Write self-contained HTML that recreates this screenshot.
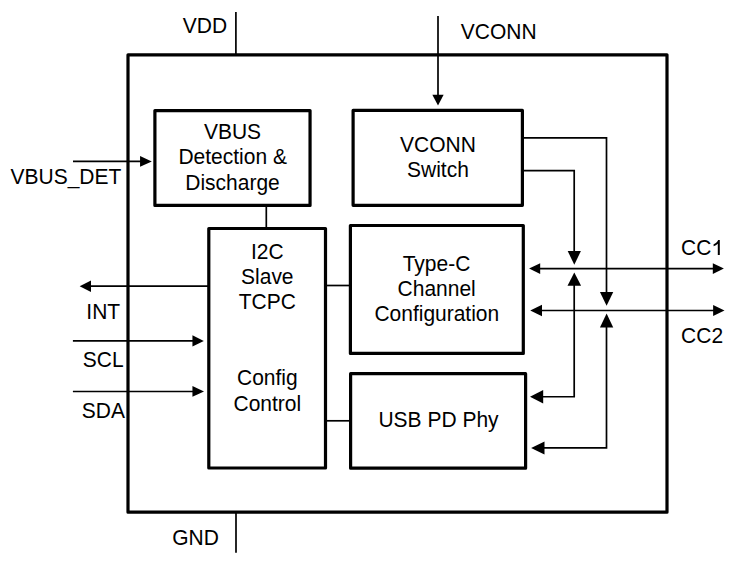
<!DOCTYPE html>
<html><head><meta charset="utf-8">
<style>
html,body{margin:0;padding:0;background:#fff;}
body{width:753px;height:564px;overflow:hidden;}
svg{display:block;}
text{font-family:"Liberation Sans",sans-serif;font-size:21px;fill:#000;}
</style></head>
<body>
<svg width="753" height="564" viewBox="0 0 753 564">

<g fill="none" stroke="#000" stroke-width="3.2" stroke-linejoin="round">
<rect x="128.00" y="54.80" width="539.00" height="457.40"/>
<rect x="154.90" y="110.60" width="155.15" height="94.80"/>
<rect x="208.80" y="228.50" width="116.70" height="239.50"/>
<rect x="353.10" y="110.40" width="169.30" height="94.90"/>
<rect x="350.40" y="225.50" width="172.90" height="127.90"/>
<rect x="350.60" y="373.70" width="175.00" height="94.50"/>
</g>
<g fill="none" stroke="#000" stroke-width="1.7" stroke-linejoin="miter">
<path d="M235.9 12.1V54.8"/>
<path d="M236 512.2V552.8"/>
<path d="M438 16V95.5"/>
<path d="M73 161.4H141"/>
<path d="M266.3 205.4V228.5"/>
<path d="M325.5 285.5H350.4"/>
<path d="M325.5 420.8H350.6"/>
<path d="M90 286.2H208.8"/>
<path d="M72.9 340.9H193.5"/>
<path d="M72.9 391.5H193.5"/>
<path d="M522.4 137.9H606.5V293"/>
<path d="M522.4 170.65H574.2V252"/>
<path d="M539 268.6H713.5"/>
<path d="M541 310.5H714"/>
<path d="M574.2 285V396.75H542"/>
<path d="M606.5 326.5V447.9H543"/>
</g>
<g fill="#000" stroke="none">
<path d="M432.35 94.7H443.65L438 105.4Z"/>
<path d="M140.05 155.95000000000002V166.85L151.8 161.4Z"/>
<path d="M91 280.45V291.95L79.66 286.2Z"/>
<path d="M192.45 335.25V346.54999999999995L203.8 340.9Z"/>
<path d="M192.45 386.09999999999997V396.7L204.0 391.4Z"/>
<path d="M567.6999999999999 251H580.9L574.3 264.8Z"/>
<path d="M567.5 285.8H581.0999999999999L574.3 272.5Z"/>
<path d="M599.95 292.1H613.25L606.6 305.7Z"/>
<path d="M599.95 327.6H613.25L606.6 313.6Z"/>
<path d="M540.2 263.15000000000003V274.05L529.1 268.6Z"/>
<path d="M712.8 263.15000000000003V274.05L723.9 268.6Z"/>
<path d="M542.0 304.85V316.15L530.25 310.5Z"/>
<path d="M713.1 305.0V316.0L724.5 310.5Z"/>
<path d="M543.2 390.05V403.45L530.0 396.75Z"/>
<path d="M544.5 441.6V454.6L531.1 448.1Z"/>
</g>
<text text-anchor="start" transform="translate(182.8,32.6) scale(1,1.03)">VDD</text>
<text text-anchor="start" transform="translate(460.8,39.1) scale(1,1.03)">VCONN</text>
<text text-anchor="start" transform="translate(10.5,184) scale(1,1.03)">VBUS_DET</text>
<text text-anchor="start" transform="translate(86.3,318.7) scale(1,1.03)">INT</text>
<text text-anchor="start" transform="translate(82.8,367) scale(1,1.03)">SCL</text>
<text text-anchor="start" transform="translate(81.85,417.8) scale(1,1.03)">SDA</text>
<text text-anchor="start" transform="translate(172.3,544.5) scale(1,1.03)">GND</text>
<text text-anchor="start" transform="translate(681.1,255.0) scale(1,1.03)">CC</text>
<text text-anchor="start" transform="translate(681.1,343.3) scale(1,1.03)">CC2</text>
<text text-anchor="middle" transform="translate(232.5,139.2) scale(1,1.03)">VBUS</text>
<text text-anchor="middle" transform="translate(232.7,163.7) scale(1,1.03)">Detection &amp;</text>
<text text-anchor="middle" transform="translate(232.5,189.9) scale(1,1.03)">Discharge</text>
<text text-anchor="middle" transform="translate(267.3,258.7) scale(1,1.03)">I2C</text>
<text text-anchor="middle" transform="translate(267.3,284.2) scale(1,1.03)">Slave</text>
<text text-anchor="middle" transform="translate(267.3,309.4) scale(1,1.03)">TCPC</text>
<text text-anchor="middle" transform="translate(267.3,384.8) scale(1,1.03)">Config</text>
<text text-anchor="middle" transform="translate(267.3,410.5) scale(1,1.03)">Control</text>
<text text-anchor="middle" transform="translate(437.9,151.9) scale(1,1.03)">VCONN</text>
<text text-anchor="middle" transform="translate(437.9,177.3) scale(1,1.03)">Switch</text>
<text text-anchor="middle" transform="translate(436.5,270.6) scale(1,1.03)">Type-C</text>
<text text-anchor="middle" transform="translate(436.7,296.1) scale(1,1.03)">Channel</text>
<text text-anchor="middle" transform="translate(436.8,321.2) scale(1,1.03)">Configuration</text>
<text text-anchor="middle" transform="translate(438.5,426.9) scale(1,1.03)">USB PD Phy</text>
<path fill="#000" d="M719.8 255V239.9H718.2C717.5 241.6 715.8 243.2 713.6 244.2V246.3C715.2 245.7 716.7 244.8 717.8 243.8V255Z"/>
</svg>
</body></html>
